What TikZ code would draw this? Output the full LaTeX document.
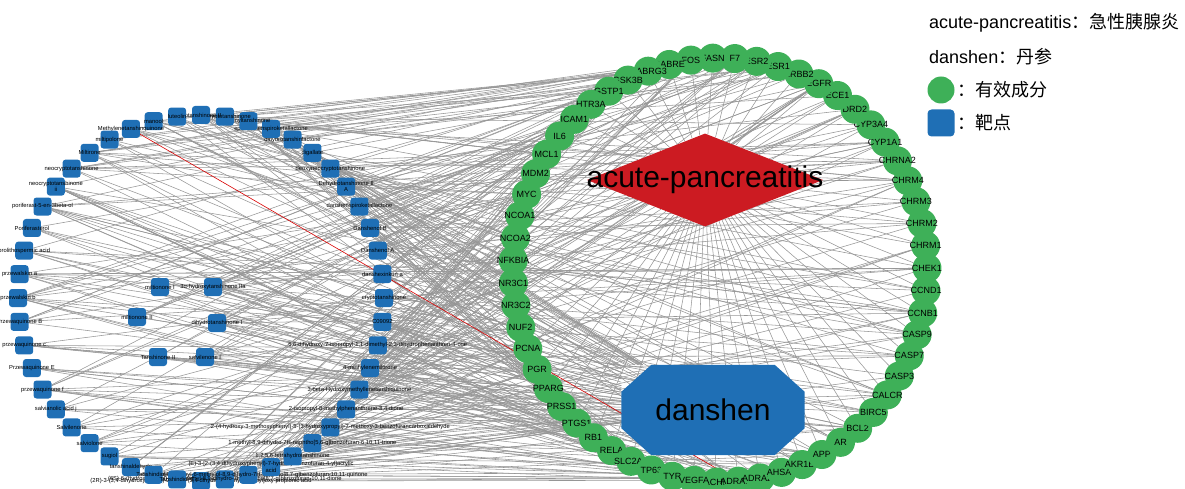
\documentclass[tikz,border=0pt]{standalone}
\usepackage{fontspec}
\setmainfont{Liberation Sans}
\newfontfamily\cjk{Noto Sans CJK SC}
\usetikzlibrary{shapes.geometric,backgrounds}
\definecolor{tgreen}{RGB}{62,176,88}
\definecolor{cblue}{RGB}{31,111,181}
\definecolor{dred}{RGB}{204,27,34}
\definecolor{egray}{RGB}{150,150,150}
\tikzset{
  target/.style={circle, fill=tgreen, minimum size=29pt, inner sep=0pt},
  tlabel/.style={font=\fontsize{9}{9}\selectfont, inner sep=0pt},
  compound/.style={rectangle, rounded corners=3pt, fill=cblue, minimum size=18pt, inner sep=0pt},
  clabel/.style={font=\fontsize{5.8}{6.3}\selectfont, inner sep=0pt, align=center},
  hublabel/.style={font=\fontsize{30}{30}\selectfont, inner sep=0pt},
  legendtext/.style={font=\fontsize{18}{18}\selectfont, anchor=west, inner sep=0pt},
  link/.style={draw=egray, line width=0.55pt},
}

\begin{document}
\begin{tikzpicture}[x=1pt, y=-1pt]
  \useasboundingbox (0,0) rectangle (1185,489);

  % disease and herb
  \node[diamond, fill=dred, minimum width=236pt, minimum height=93pt, inner sep=0pt] (ap) at (705,180) {};
  \node[hublabel] (ap-text) at (ap) {acute-pancreatitis};
  \node[minimum width=183pt, minimum height=90pt, inner sep=0pt] (ds) at (713,410) {};
  \fill[cblue] ([xshift=30pt]ds.north west) -- ([xshift=-30pt]ds.north east)
    -- ([yshift=-27pt]ds.north east) -- ([yshift=27pt]ds.south east)
    -- ([xshift=-30pt]ds.south east) -- ([xshift=30pt]ds.south west)
    -- ([yshift=27pt]ds.south west) -- ([yshift=-27pt]ds.north west) -- cycle;
  \node[hublabel] (ds-text) at (ds) {danshen};

  % ring of targets
  \foreach \nm [count=\j] in {ACHE,ADRA1A,ADRA2A,AHSA1,AKR1B1,APP,AR,BCL2,BIRC5,CALCR,
      CASP3,CASP7,CASP9,CCNB1,CCND1,CHEK1,CHRM1,CHRM2,CHRM3,CHRM4,CHRNA2,CYP1A1,CYP3A4,
      DRD2,ECE1,EGFR,ERBB2,ESR1,ESR2,F7,FASN,FOS,GABRE,GABRG3,GSK3B,GSTP1,HTR3A,ICAM1,
      IL6,MCL1,MDM2,MYC,NCOA1,NCOA2,NFKBIA,NR3C1,NR3C2,NUF2,PCNA,PGR,PPARG,PRSS1,PTGS1,
      RB1,RELA,SLC2A1,TP63,TYR,VEGFA} {
    \pgfmathsetmacro\ang{269+(\j-1)*6.1}
    \node[target] (t\j) at ({720+207*cos(\ang)},{270-212*sin(\ang)}) {};
    \node[tlabel] (t\j-text) at (t\j) {\nm};
  }

  % ring of compounds
  \foreach \nm [count=\i] in {
      {(2R)-3-(3,4-dihydroxyphenyl)-2-[(Z)-3-(3,4-dihydroxyphenyl)acryloyl]oxy-propionic acid},
      {(6S)-6-(hydroxymethyl)-1,6-dimethyl-8,9-dihydro-7H-naphtho[8,7-g]benzofuran-10,11-dione},
      {(6S)-6-hydroxy-1-methyl-6-methylol-8,9-dihydro-7H-naphtho[8,7-g]benzofuran-10,11-quinone},
      {(E)-3-[2-(3,4-dihydroxyphenyl)-7-hydroxy-benzofuran-4-yl]acrylic\\acid},
      {1,2,5,6-tetrahydrotanshinone},
      {1-methyl-8,9-dihydro-7H-naphtho[5,6-g]benzofuran-6,10,11-trione},
      {2-(4-hydroxy-3-methoxyphenyl)-5-(3-hydroxypropyl)-7-methoxy-3-benzofurancarboxaldehyde},
      {2-isopropyl-8-methylphenanthrene-3,4-dione},
      {3-beta-Hydroxymethyllenetanshiquinone},
      {4-methylenemiltirone},
      {5,6-dihydroxy-7-isopropyl-1,1-dimethyl-2,3-dihydrophenanthren-4-one},
      {C09092},{cryptotanshinone},{danshexinkun a},{Danshenol A},{Danshenol B},
      {danshenspiroketallactone},{Dehydrotanshinone II\\A},{deoxyneocryptotanshinone},
      {digallate},{dihydrotanshinlactone},{epidanshenspiroketallactone},{formyltanshinone},
      {Isocryptotanshinone},{isotanshinone II},{luteolin},{manool},{Methylenetanshinquinone},
      {miltipolone},{Miltirone},{neocryptotanshinone},{neocryptotanshinone\\ii},
      {poriferast-5-en-3beta-ol},{Poriferasterol},{prolithospermic acid},{przewalskin a},
      {przewalskin b},{Przewaquinone B},{przewaquinone c},{Przewaquinone E},
      {przewaquinone f},{salvianolic acid j},{Salvilenone},{salviolone},{sugiol},
      {tanshinaldehyde},{Tanshindiol B},{Tanshindiol C}} {
    \pgfmathsetmacro\ang{270+(\i-1)*7.5}
    \node[compound] (h\i) at ({201+183*cos(\ang)},{298-183*sin(\ang)}) {};
    \node[clabel] (h\i-text) at (h\i) {\nm};
  }

  % compounds moved inside the ring
  \foreach \nm/\px/\py [count=\i from 49] in {miltionone I/160/287,
      3α-hydroxytanshinone IIa/213/287, miltionone II/137/317,
      dihydrotanshinone I/217/323, Tanshinone II/158/357, salvilenone I/205/357} {
    \node[compound] (h\i) at (\px,\py) {};
    \node[clabel] (h\i-text) at (h\i) {\nm};
  }

  % links
  \begin{pgfonlayer}{background}
    \foreach \j in {1,...,59} \draw[link] (ap) -- (t\j);
    \foreach \i in {1,...,54} \draw[link] (ds) -- (h\i);
    \pgfmathsetseed{11}
    \foreach \i in {1,...,54} {
      \pgfmathrandominteger{\deg}{3}{10}
      \foreach \k in {1,...,\deg} {
        \pgfmathrandominteger{\tg}{1}{59}
        \draw[link] (h\i) -- (t\tg);
      }
    }
    \draw[draw=red!85!black, line width=0.6pt] (h28) -- (t2);
  \end{pgfonlayer}

  % legend
  \node[legendtext] (lg-ap) at (929,23) {acute-pancreatitis{\cjk ：急性胰腺炎}};
  \node[legendtext] (lg-ds) at (929,57) {danshen{\cjk ：丹参}};
  \node[target, minimum size=27pt] (lg-t) at (941,90) {};
  \node[legendtext] (lg-t-text) at (957,90) {\cjk ：有效成分};
  \node[compound, minimum size=27pt, rounded corners=4pt] (lg-c) at (941,123) {};
  \node[legendtext] (lg-c-text) at (957,123) {\cjk ：靶点};
\end{tikzpicture}
\end{document}
